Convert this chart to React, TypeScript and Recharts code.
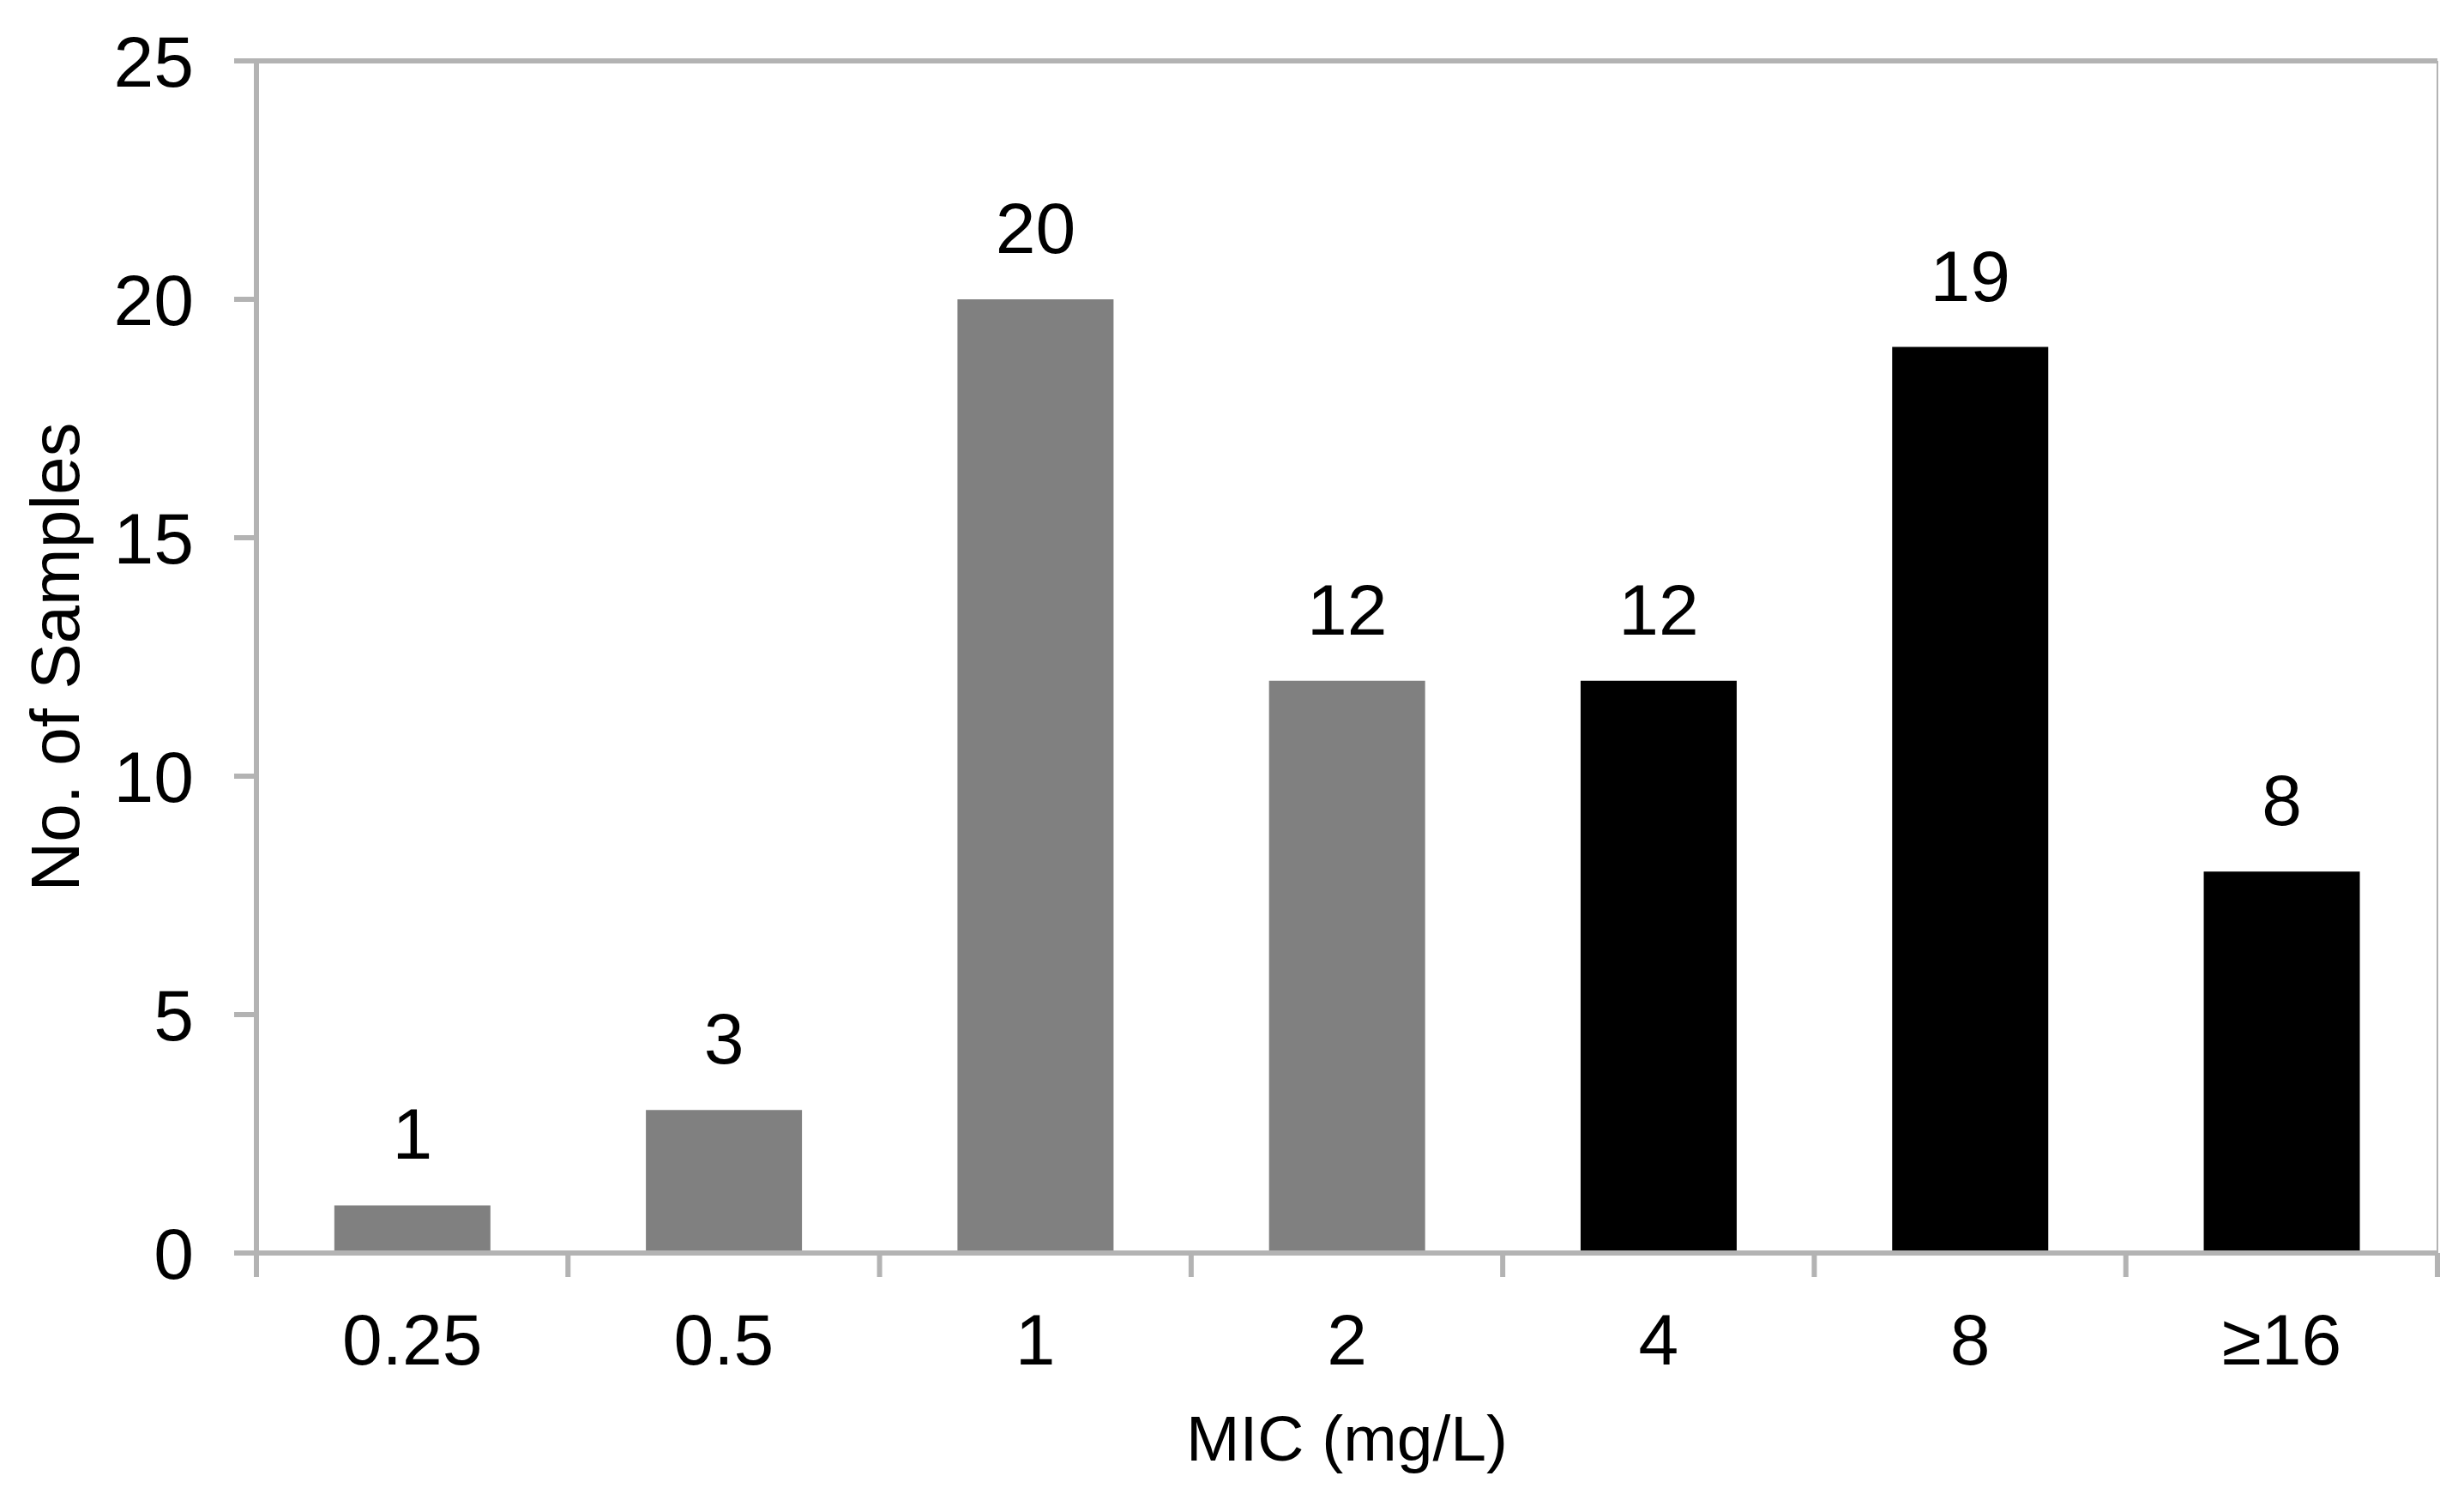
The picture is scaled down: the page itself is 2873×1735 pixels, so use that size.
import React from 'react'
import {
  BarChart,
  Bar,
  Cell,
  XAxis,
  YAxis,
  CartesianGrid,
  LabelList,
} from 'recharts'

// MIC distribution
const micLabels = ['0.25', '0.5', '1', '2', '4', '8', '≥16']
const sampleCounts = [1, 3, 20, 12, 12, 19, 8]
const resistant = [false, false, false, false, true, true, true]
const yTicks = [0, 5, 10, 15, 20, 25]

const GRID = '#b3b3b3'
const FONT = '"Liberation Sans", Arial, sans-serif'
const WIDTH = 2857
const HEIGHT = 1710

const data = micLabels.map((mic, i) => ({ mic, count: sampleCounts[i] }))

function XTick(props: any) {
  const { x, y, payload, index, width } = props
  const half = payload?.offset ?? (width ? width / micLabels.length / 2 : 181)
  const last = index === micLabels.length - 1
  return (
    <g>
      <line x1={x - half} x2={x - half} y1={y} y2={y + 28} stroke={GRID} strokeWidth={6} />
      {last && <line x1={x + half} x2={x + half} y1={y} y2={y + 28} stroke={GRID} strokeWidth={6} />}
      <text x={x} y={y + 130} textAnchor="middle" fontSize={84} fontFamily={FONT} fill="#000">
        {payload.value}
      </text>
    </g>
  )
}

const yTitle = (props: any) => {
  const vb = props.viewBox || { x: 0, y: 63, width: 291, height: 1390 }
  const x = vb.x + 84
  const y = vb.y + vb.height / 2
  return (
    <text
      x={x}
      y={y}
      transform={`rotate(-90, ${x}, ${y})`}
      textAnchor="middle"
      fontSize={80}
      fontFamily={FONT}
      fill="#000"
    >
      No. of Samples
    </text>
  )
}

const xTitle = (props: any) => {
  const vb = props.viewBox || { x: 291, y: 1453, width: 2543, height: 257 }
  return (
    <text
      x={vb.x + vb.width / 2}
      y={vb.y + 242}
      textAnchor="middle"
      fontSize={75}
      fontFamily={FONT}
      fill="#000"
    >
      MIC (mg/L)
    </text>
  )
}

export default function App() {
  return (
    <div style={{ width: WIDTH, height: HEIGHT, fontFamily: FONT }}>
      <BarChart
        width={WIDTH}
        height={HEIGHT}
        data={data}
        margin={{ top: 63, right: 22, left: 0, bottom: 0 }}
        barCategoryGap="25%"
      >
        <CartesianGrid vertical={false} stroke={GRID} strokeWidth={6} />
        <XAxis
          dataKey="mic"
          interval={0}
          height={257}
          tickSize={0}
          tickMargin={0}
          tickLine={false}
          axisLine={{ stroke: GRID, strokeWidth: 6 }}
          tick={<XTick />}
          label={{ content: xTitle }}
        />
        <YAxis
          yAxisId="left"
          domain={[0, 25]}
          ticks={yTicks}
          width={291}
          tickSize={26}
          tickMargin={47}
          tickLine={{ stroke: GRID, strokeWidth: 6 }}
          axisLine={{ stroke: GRID, strokeWidth: 6 }}
          tick={{ fontSize: 84, fill: '#000', fontFamily: FONT }}
          label={{ content: yTitle }}
        />
        <YAxis
          yAxisId="right"
          orientation="right"
          domain={[0, 25]}
          width={1}
          tick={false}
          tickLine={false}
          axisLine={{ stroke: GRID, strokeWidth: 2 }}
        />
        <Bar yAxisId="left" dataKey="count" isAnimationActive={false}>
          {data.map((d, i) => (
            <Cell key={d.mic} fill={resistant[i] ? '#000000' : '#808080'} />
          ))}
          <LabelList
            dataKey="count"
            position="top"
            offset={54}
            fontSize={84}
            fontFamily={FONT}
            fill="#000"
          />
        </Bar>
      </BarChart>
    </div>
  )
}
